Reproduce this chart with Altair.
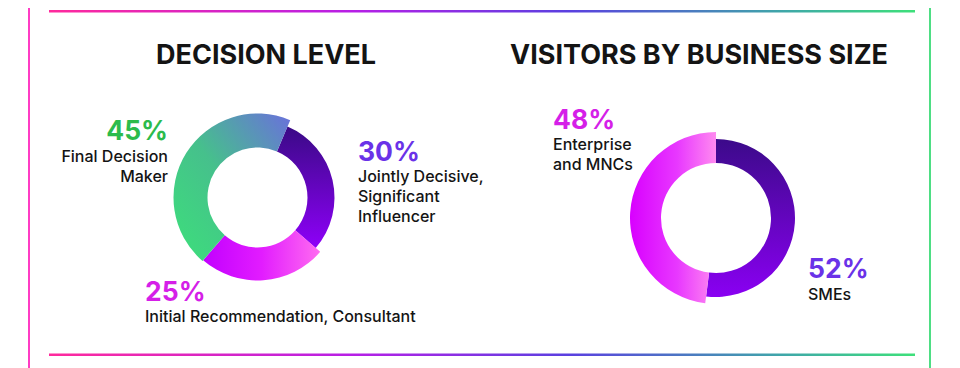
import math
import altair as alt
import pandas as pd

# ---------------- data ----------------
decision_categories = ["Jointly Decisive, Significant Influencer",
                       "Initial Recommendation, Consultant",
                       "Final Decision Maker"]
decision_values = [30, 25, 45]
decision_labels = ["Jointly Decisive,\nSignificant\nInfluencer",
                   "Initial Recommendation, Consultant",
                   "Final Decision\nMaker"]

size_categories = ["SMEs", "Enterprise and MNCs"]
size_values = [52, 48]
size_labels = ["SMEs", "Enterprise\nand MNCs"]

titles = ["DECISION LEVEL", "VISITORS BY BUSINESS SIZE"]

dec_df = pd.DataFrame({"category": decision_categories, "value": decision_values,
                       "label": decision_labels, "order": range(len(decision_values))})
size_df = pd.DataFrame({"category": size_categories, "value": size_values,
                        "label": size_labels, "order": range(len(size_values))})

# ---------------- layout / styles (page pixel coords) ----------------
OX, OY = 8, 8
def px(v): return v - OX
def py(v): return v - OY

FONT = "Inter"
BLACK = "#141414"
GREEN = "#2cbb4c"
PURPLE = "#6a32e8"
MAGENTA = "#d51fe8"

def grad(stops, x1=0, y1=0, x2=1, y2=0):
    return alt.Gradient(gradient="linear", x1=x1, y1=y1, x2=x2, y2=y2,
                        stops=[alt.GradientStop(offset=o, color=c) for o, c in stops])

dec_style = {
    decision_categories[0]: dict(r1=77, fill=grad([(0, "#3a0a86"), (1, "#8e00f8")], 0.5, 0, 0.5, 1)),
    decision_categories[1]: dict(r1=83, fill=grad([(0, "#c200ff"), (0.5, "#e21cff"), (1, "#ff6cf0")])),
    decision_categories[2]: dict(r1=84, fill=grad([(0, "#3ce07a"), (0.5, "#46c08c"), (1, "#6a70dc")], 0, 1, 1, 0)),
}
size_style = {
    size_categories[0]: dict(r1=79, fill=grad([(0, "#3c0a8a"), (1, "#8a00f2")], 0.5, 0, 0.5, 1)),
    size_categories[1]: dict(r1=86, fill=grad([(0, "#d800ff"), (0.55, "#e838ff"), (1, "#ff8af0")])),
}

DEC_CENTER = (257.5, 197.5)
DEC_R0 = 50
DEC_OFFSET = 0.4
SIZE_CENTER = (716, 218)
SIZE_R0 = 55
SIZE_OFFSET = 0.0

# text anchors: (x, pct baseline, label baseline, align, pct color)
dec_text = {
    decision_categories[0]: (358, 161, 182, "left", PURPLE),
    decision_categories[1]: (145, 301, 322, "left", MAGENTA),
    decision_categories[2]: (168, 140, 162, "right", GREEN),
}
size_text = {
    size_categories[0]: (808, 278, 300, "left", PURPLE),
    size_categories[1]: (553, 129, 150, "left", MAGENTA),
}
title_pos = [(266, 64), (699, 64)]

# ---------------- marks ----------------
def donut_layers(df, styles, center, r0, offset):
    layers = []
    for cat, st in styles.items():
        layers.append(
            alt.Chart(df)
            .transform_window(cum="sum(value)", sort=[alt.SortField("order")])
            .transform_calculate(start="datum.cum - datum.value")
            .transform_filter(alt.datum.category == cat)
            .mark_arc(innerRadius=r0, outerRadius=st["r1"], fill=st["fill"])
            .encode(
                theta=alt.Theta("start:Q", scale=alt.Scale(domain=[0, 100],
                                range=[offset, offset + 2 * math.pi])),
                theta2="cum:Q",
                x=alt.value(px(center[0])), y=alt.value(py(center[1])),
            )
        )
    return layers

def text_layers(df, anchors):
    layers = []
    for cat, (x, ypct, ylab, align, col) in anchors.items():
        base = alt.Chart(df).transform_filter(alt.datum.category == cat)
        layers.append(
            base.transform_calculate(pct="datum.value + '%'")
            .mark_text(font=FONT, fontSize=26.5, fontWeight=700, color=col,
                       align=align, baseline="alphabetic")
            .encode(text="pct:N", x=alt.value(px(x)), y=alt.value(py(ypct)))
        )
        layers.append(
            base.mark_text(font=FONT, fontSize=16, fontWeight=500, color=BLACK,
                           align=align, baseline="alphabetic", lineBreak="\n",
                           lineHeight=20)
            .encode(text="label:N", x=alt.value(px(x)), y=alt.value(py(ylab)))
        )
    return layers

one = pd.DataFrame({"k": [0]})
line_grad = grad([(0, "#ff2a9c"), (0.35, "#b71fe6"), (0.6, "#5a40e0"),
                  (0.85, "#3fa8a8"), (1, "#3ee07a")])
deco = [
    alt.Chart(one).mark_rect(fill="#ff3cc4").encode(
        x=alt.value(px(28)), x2=alt.value(px(30)), y=alt.value(py(8)), y2=alt.value(py(368))),
    alt.Chart(one).mark_rect(fill="#4ede84").encode(
        x=alt.value(px(929)), x2=alt.value(px(931)), y=alt.value(py(8)), y2=alt.value(py(368))),
    alt.Chart(one).mark_rect(fill=line_grad).encode(
        x=alt.value(px(49)), x2=alt.value(px(915)), y=alt.value(py(10)), y2=alt.value(py(12.5))),
    alt.Chart(one).mark_rect(fill=line_grad).encode(
        x=alt.value(px(49)), x2=alt.value(px(915)), y=alt.value(py(353.5)), y2=alt.value(py(356))),
]

title_layers = []
for t, (x, y) in zip(titles, title_pos):
    title_layers.append(
        alt.Chart(pd.DataFrame({"t": [t]}))
        .mark_text(font=FONT, fontSize=27, fontWeight=700, color=BLACK,
                   align="center", baseline="alphabetic")
        .encode(text="t:N", x=alt.value(px(x)), y=alt.value(py(y)))
    )

layers = (deco
          + donut_layers(dec_df, dec_style, DEC_CENTER, DEC_R0, DEC_OFFSET)
          + donut_layers(size_df, size_style, SIZE_CENTER, SIZE_R0, SIZE_OFFSET)
          + text_layers(dec_df, dec_text) + text_layers(size_df, size_text)
          + title_layers)

chart = (
    alt.layer(*layers)
    .resolve_scale(theta="independent")
    .properties(width=944, height=360, padding=0, background="white",
                autosize=alt.AutoSizeParams(type="none"))
    .configure_view(strokeWidth=0, stroke="transparent")
)

chart.save("out.html", embed_options={"renderer": "svg", "actions": False})
